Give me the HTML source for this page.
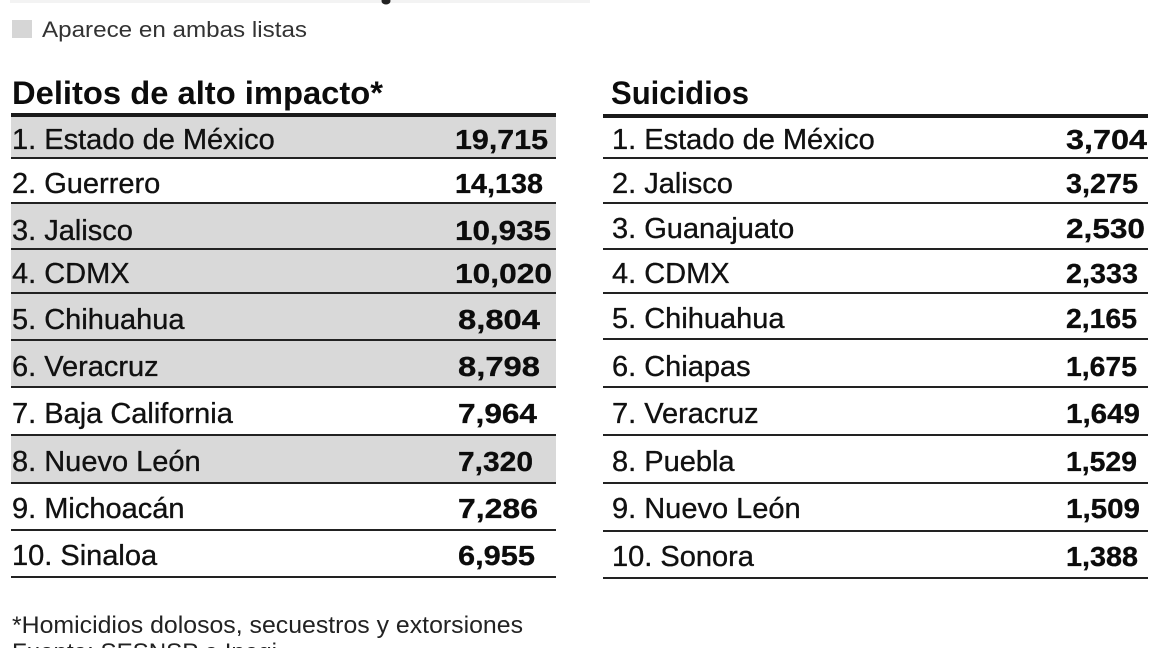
<!DOCTYPE html>
<html>
<head>
<meta charset="utf-8">
<style>
html,body{margin:0;padding:0;background:#fff;}
svg{display:block;}
text{font-family:"Liberation Sans",sans-serif;fill:#141414;}
.lb{font-size:29px;fill:#111;stroke:#111;stroke-width:0.35px;}
.nb{font-size:28px;font-weight:bold;fill:#0c0c0c;stroke:#0c0c0c;stroke-width:0.3px;}
.hd{font-size:32px;font-weight:bold;fill:#0c0c0c;}
</style>
</head>
<body>
<svg width="1152" height="648" viewBox="0 0 1152 648" xmlns="http://www.w3.org/2000/svg">
<rect width="1152" height="648" fill="#fff"/>
<!-- cut-off top -->
<rect x="10" y="0" width="580" height="3" fill="#f3f3f3"/>
<ellipse cx="386" cy="1" rx="4.5" ry="3.5" fill="#222"/>

<!-- legend -->
<rect x="12" y="20" width="20" height="18" fill="#d6d6d6"/>
<text x="42" y="37" style="font-size:22px;fill:#333" textLength="265" lengthAdjust="spacingAndGlyphs">Aparece en ambas listas</text>

<!-- LEFT TABLE -->
<text class="hd" x="12" y="104" textLength="371" lengthAdjust="spacingAndGlyphs">Delitos de alto impacto*</text>
<!-- shaded rows -->
<rect x="11" y="117" width="545" height="41" fill="#d9d9d9"/>
<rect x="11" y="204" width="545" height="45" fill="#d9d9d9"/>
<rect x="11" y="250" width="545" height="43" fill="#d9d9d9"/>
<rect x="11" y="294" width="545" height="46" fill="#d9d9d9"/>
<rect x="11" y="341" width="545" height="46" fill="#d9d9d9"/>
<rect x="11" y="436" width="545" height="47" fill="#d9d9d9"/>
<!-- lines -->
<rect x="11" y="113" width="545" height="4" fill="#1a1a1a"/>
<g fill="#222">
<rect x="11" y="157" width="545" height="2"/>
<rect x="11" y="202" width="545" height="2"/>
<rect x="11" y="248" width="545" height="2"/>
<rect x="11" y="292" width="545" height="2"/>
<rect x="11" y="339" width="545" height="2"/>
<rect x="11" y="386" width="545" height="2"/>
<rect x="11" y="434" width="545" height="2"/>
<rect x="11" y="482" width="545" height="2"/>
<rect x="11" y="529" width="545" height="2"/>
<rect x="11" y="576" width="545" height="2"/>
</g>
<text class="lb" x="12" y="149">1. Estado de México</text>
<text class="lb" x="12" y="193">2. Guerrero</text>
<text class="lb" x="12" y="240">3. Jalisco</text>
<text class="lb" x="12" y="283">4. CDMX</text>
<text class="lb" x="12" y="329">5. Chihuahua</text>
<text class="lb" x="12" y="376">6. Veracruz</text>
<text class="lb" x="12" y="423">7. Baja California</text>
<text class="lb" x="12" y="471">8. Nuevo León</text>
<text class="lb" x="12" y="518">9. Michoacán</text>
<text class="lb" x="12" y="565">10. Sinaloa</text>

<text class="nb" x="455" y="149" textLength="93" lengthAdjust="spacingAndGlyphs">19,715</text>
<text class="nb" x="455" y="193" textLength="88" lengthAdjust="spacingAndGlyphs">14,138</text>
<text class="nb" x="455" y="240" textLength="96" lengthAdjust="spacingAndGlyphs">10,935</text>
<text class="nb" x="455" y="283" textLength="97" lengthAdjust="spacingAndGlyphs">10,020</text>
<text class="nb" x="458" y="329" textLength="82" lengthAdjust="spacingAndGlyphs">8,804</text>
<text class="nb" x="458" y="376" textLength="82" lengthAdjust="spacingAndGlyphs">8,798</text>
<text class="nb" x="458" y="423" textLength="79" lengthAdjust="spacingAndGlyphs">7,964</text>
<text class="nb" x="458" y="471" textLength="75" lengthAdjust="spacingAndGlyphs">7,320</text>
<text class="nb" x="458" y="518" textLength="80" lengthAdjust="spacingAndGlyphs">7,286</text>
<text class="nb" x="458" y="565" textLength="77" lengthAdjust="spacingAndGlyphs">6,955</text>

<!-- RIGHT TABLE -->
<text class="hd" x="611" y="104" textLength="138" lengthAdjust="spacingAndGlyphs">Suicidios</text>
<rect x="603" y="114" width="545" height="4" fill="#1a1a1a"/>
<g fill="#222">
<rect x="603" y="157" width="545" height="2"/>
<rect x="603" y="202" width="545" height="2"/>
<rect x="603" y="248" width="545" height="2"/>
<rect x="603" y="292" width="545" height="2"/>
<rect x="603" y="338" width="545" height="2"/>
<rect x="603" y="386" width="545" height="2"/>
<rect x="603" y="434" width="545" height="2"/>
<rect x="603" y="482" width="545" height="2"/>
<rect x="603" y="530" width="545" height="2"/>
<rect x="603" y="577" width="545" height="2"/>
</g>
<text class="lb" x="612" y="149">1. Estado de México</text>
<text class="lb" x="612" y="193">2. Jalisco</text>
<text class="lb" x="612" y="238">3. Guanajuato</text>
<text class="lb" x="612" y="283">4. CDMX</text>
<text class="lb" x="612" y="328">5. Chihuahua</text>
<text class="lb" x="612" y="376">6. Chiapas</text>
<text class="lb" x="612" y="423">7. Veracruz</text>
<text class="lb" x="612" y="471">8. Puebla</text>
<text class="lb" x="612" y="518">9. Nuevo León</text>
<text class="lb" x="612" y="566">10. Sonora</text>

<text class="nb" x="1066" y="149" textLength="81" lengthAdjust="spacingAndGlyphs">3,704</text>
<text class="nb" x="1066" y="193" textLength="72" lengthAdjust="spacingAndGlyphs">3,275</text>
<text class="nb" x="1066" y="238" textLength="79" lengthAdjust="spacingAndGlyphs">2,530</text>
<text class="nb" x="1066" y="283" textLength="72" lengthAdjust="spacingAndGlyphs">2,333</text>
<text class="nb" x="1066" y="328" textLength="71" lengthAdjust="spacingAndGlyphs">2,165</text>
<text class="nb" x="1066" y="376" textLength="71" lengthAdjust="spacingAndGlyphs">1,675</text>
<text class="nb" x="1066" y="423" textLength="74" lengthAdjust="spacingAndGlyphs">1,649</text>
<text class="nb" x="1066" y="471" textLength="71" lengthAdjust="spacingAndGlyphs">1,529</text>
<text class="nb" x="1066" y="518" textLength="74" lengthAdjust="spacingAndGlyphs">1,509</text>
<text class="nb" x="1066" y="566" textLength="72" lengthAdjust="spacingAndGlyphs">1,388</text>

<!-- footer -->
<text x="12" y="633" style="font-size:24px;fill:#222" textLength="511" lengthAdjust="spacingAndGlyphs">*Homicidios dolosos, secuestros y extorsiones</text>
<text x="12" y="660" style="font-size:24px;fill:#222" textLength="265" lengthAdjust="spacingAndGlyphs">Fuente: SESNSP e Inegi</text>
</svg>
</body>
</html>
